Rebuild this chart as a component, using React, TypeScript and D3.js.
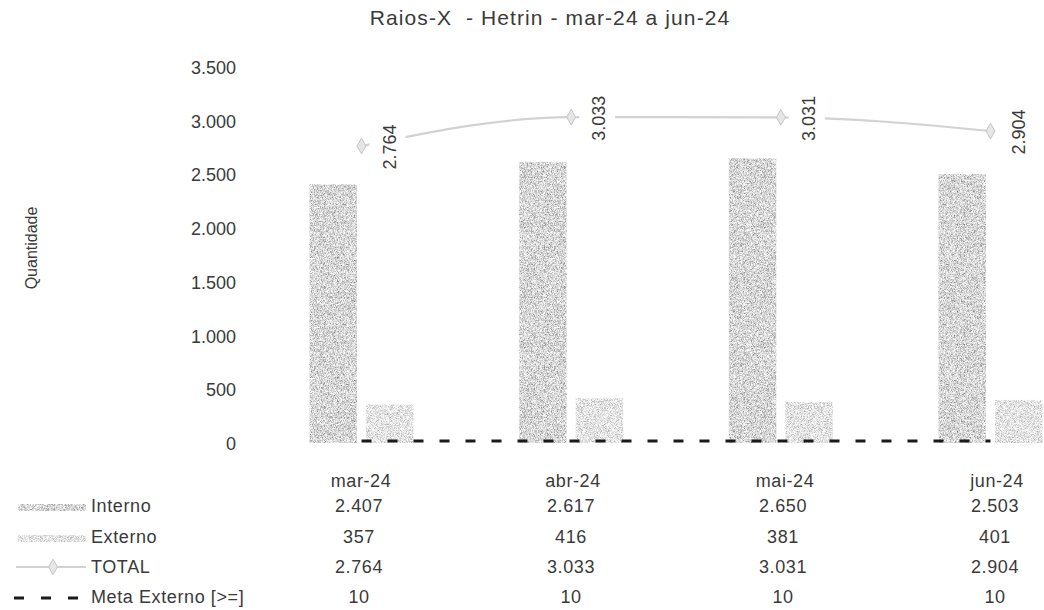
import React from 'react';
import * as d3 from 'd3';

const categories = ['mar-24', 'abr-24', 'mai-24', 'jun-24'];
const interno = [2407, 2617, 2650, 2503];
const externo = [357, 416, 381, 401];
const total = [2764, 3033, 3031, 2904];
const metaExterno = [10, 10, 10, 10];
const yTicks = [0, 500, 1000, 1500, 2000, 2500, 3000, 3500];
const seriesNames = ['Interno', 'Externo'];
const title = 'Raios-X  - Hetrin - mar-24 a jun-24';
const yTitle = 'Quantidade';

const W = 1044;
const H = 610;
const FONT = '"Liberation Sans", Arial, sans-serif';
const TXT = '#3a3a3a';

const locale = d3.formatLocale({ decimal: ',', thousands: '.', grouping: [3], currency: ['R$', ''] });
const fmt = locale.format(',d');

export default function App() {
  const y = d3.scaleLinear().domain([0, 3500]).range([443, 67]);
  const x = d3.scalePoint<string>().domain(categories).range([361.5, 990.5]);
  const xs = d3.scaleBand<string>().domain(seriesNames).range([-52, 52]).paddingInner(0.16);
  const xt = d3.scalePoint<string>().domain(categories).range([359, 995]);

  const totalPts: [number, number][] = categories.map((c, i) => [x(c)!, y(total[i])]);
  const line = d3.line().curve(d3.curveMonotoneX);
  const metaPts: [number, number][] = categories.map((c, i) => [x(c)!, y(metaExterno[i]) - 1]);
  const diamond = d3.symbol().type(d3.symbolDiamond).size(70)();

  const rowsY = [512, 543, 573, 603];
  const rowVals = [interno, externo, total, metaExterno];
  const rowNames = ['Interno', 'Externo', 'TOTAL', 'Meta Externo [>=]'];
  const fills = ['url(#pDark)', 'url(#pLight)'];

  return (
    <svg width={W} height={H} style={{ position: 'absolute', left: 0, top: 0, background: '#fff' }} fontFamily={FONT}>
      <defs>
        <filter id="grainDark" x="0" y="0" width="100%" height="100%" filterUnits="objectBoundingBox">
          <feTurbulence type="fractalNoise" baseFrequency="2.3" numOctaves="1" seed="4" result="n" />
          <feColorMatrix in="n" type="matrix" values="1.6 0 0 0 -0.12  1.6 0 0 0 -0.12  1.6 0 0 0 -0.12  0 0 0 0 1" />
        </filter>
        <filter id="grainLight" x="0" y="0" width="100%" height="100%" filterUnits="objectBoundingBox">
          <feTurbulence type="fractalNoise" baseFrequency="2.3" numOctaves="1" seed="9" result="n" />
          <feColorMatrix in="n" type="matrix" values="1.4 0 0 0 0.08  1.4 0 0 0 0.08  1.4 0 0 0 0.08  0 0 0 0 1" />
        </filter>
        <pattern id="pDark" patternUnits="userSpaceOnUse" width="120" height="120">
          <rect width="120" height="120" fill="#9a9a9a" />
          <rect width="120" height="120" filter="url(#grainDark)" />
        </pattern>
        <pattern id="pLight" patternUnits="userSpaceOnUse" width="120" height="120">
          <rect width="120" height="120" fill="#cccccc" />
          <rect width="120" height="120" filter="url(#grainLight)" />
        </pattern>
      </defs>

      <text x={550} y={25} textAnchor="middle" fontSize={21} letterSpacing={1.1} fill={TXT} xmlSpace="preserve" style={{ whiteSpace: 'pre' }}>{title}</text>
      <text transform={`translate(31,248) rotate(-90)`} textAnchor="middle" dominantBaseline="central" fontSize={16} fill={TXT}>{yTitle}</text>

      {yTicks.map(t => (
        <text key={t} x={236} y={y(t) + 1} textAnchor="end" dominantBaseline="central" fontSize={18} fill={TXT}>{fmt(t)}</text>
      ))}

      {categories.map((c, i) => (
        <g key={c}>
          {[interno[i], externo[i]].map((v, j) => (
            <rect key={j} x={x(c)! + xs(seriesNames[j])!} y={y(v)} width={xs.bandwidth()} height={y(0) - y(v)} fill={fills[j]} />
          ))}
        </g>
      ))}

      <path d={line(metaPts) || ''} fill="none" stroke="#1a1a1a" strokeWidth={3} strokeDasharray="10 16" />

      <path d={line(totalPts) || ''} fill="none" stroke="#d2d2d2" strokeWidth={2.2} />
      {categories.map((c, i) => (
        <g key={c}>
          <rect x={x(c)! + 8} y={y(total[i]) - 27} width={36} height={54} fill="#fff" />
          <text transform={`translate(${x(c)! + 28},${y(total[i]) + 1}) rotate(-90)`} textAnchor="middle" dominantBaseline="central" fontSize={18} fill={TXT}>{fmt(total[i])}</text>
          <path d={diamond || ''} transform={`translate(${x(c)},${y(total[i])})`} fill="#e6e6e6" stroke="#c4c4c4" strokeWidth={1} />
        </g>
      ))}

      {categories.map(c => (
        <text key={c} x={xt(c)! + 2} y={487} textAnchor="middle" fontSize={18} letterSpacing={0.6} fill={TXT}>{c}</text>
      ))}
      {rowVals.map((vals, r) => (
        <g key={r}>
          {categories.map((c, i) => (
            <text key={c} x={xt(c)} y={rowsY[r]} textAnchor="middle" fontSize={18} letterSpacing={0.6} fill={TXT}>{fmt(vals[i])}</text>
          ))}
          <text x={91} y={rowsY[r]} fontSize={18} letterSpacing={0.6} fill={TXT}>{rowNames[r]}</text>
        </g>
      ))}

      <rect x={18} y={504} width={68} height={7} fill="url(#pDark)" />
      <rect x={18} y={535} width={68} height={7} fill="url(#pLight)" />
      <line x1={16} x2={86} y1={567} y2={567} stroke="#d2d2d2" strokeWidth={2.2} />
      <path d={diamond || ''} transform="translate(53,567)" fill="#e6e6e6" stroke="#c4c4c4" strokeWidth={1} />
      <line x1={14} x2={86} y1={598} y2={598} stroke="#1a1a1a" strokeWidth={3} strokeDasharray="10 17" />
    </svg>
  );
}
